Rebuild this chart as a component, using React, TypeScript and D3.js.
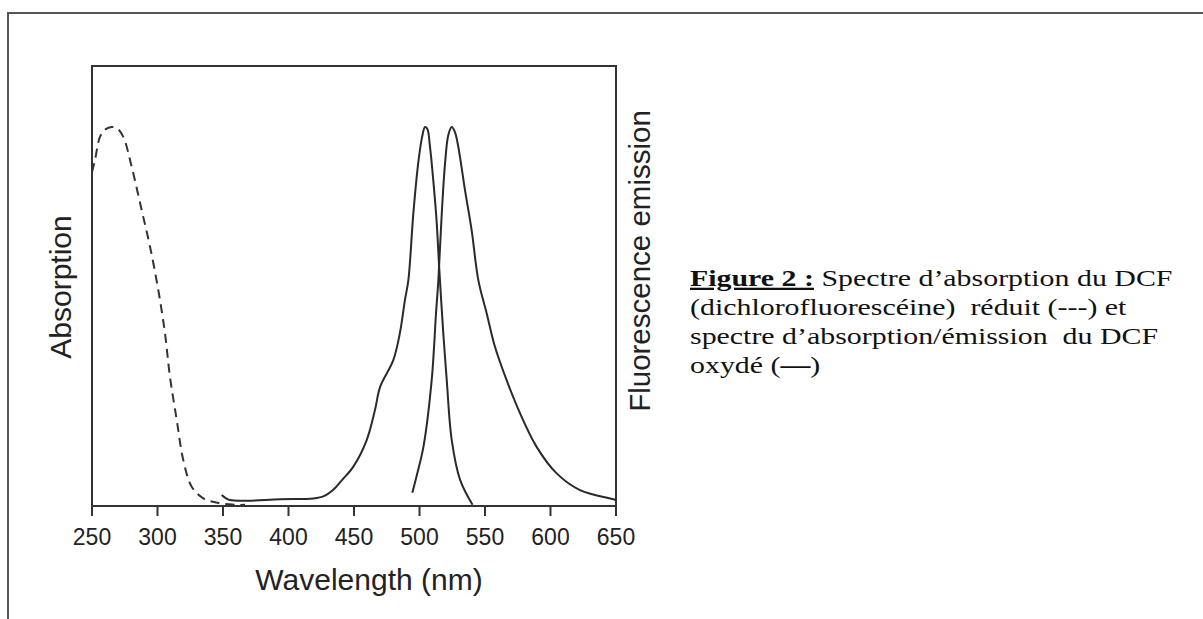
import React from "react";
import * as d3 from "d3";

// Wavelength axis ticks (nm)
const wavelengthTicks = [250, 300, 350, 400, 450, 500, 550, 600, 650];

// Reduced DCF absorption (dashed)
const reducedNm = [250, 252.3, 256.1, 260, 265, 269.5, 273.9, 280.3, 287.9, 294.3, 300.6, 305.7, 309.5, 314.7, 319.7, 326.1, 335, 347.7, 360.5, 366.8];
const reducedAbs = [0.881, 0.913, 0.974, 0.993, 1.0, 0.995, 0.974, 0.895, 0.781, 0.684, 0.57, 0.456, 0.341, 0.227, 0.121, 0.051, 0.02, 0.007, 0.003, 0.003];

// Oxidized DCF absorption (solid, left peak)
const oxAbsNm = [349, 352, 355, 368, 393.5, 419, 427, 434, 441, 449.5, 459.7, 466, 470, 480, 485, 488.9, 491.5, 495.3, 499, 502, 504.2, 506, 508, 510.5, 513, 515, 518, 520.8, 524.6, 531, 540.5];
const oxAbsVal = [0.029, 0.021, 0.016, 0.014, 0.018, 0.02, 0.026, 0.042, 0.069, 0.104, 0.174, 0.253, 0.315, 0.385, 0.456, 0.544, 0.596, 0.772, 0.904, 0.974, 1.0, 0.995, 0.948, 0.86, 0.755, 0.631, 0.464, 0.332, 0.174, 0.069, 0.003];

// Oxidized DCF fluorescence emission (solid, right peak)
const emNm = [494.5, 498, 503, 509.3, 512.6, 514.4, 517, 519.5, 522, 524.6, 527, 529.6, 534.7, 539.8, 544.9, 551.3, 557.6, 566.5, 576.7, 589.4, 604.7, 622.5, 648, 650];
const emVal = [0.035, 0.082, 0.156, 0.332, 0.508, 0.596, 0.772, 0.904, 0.979, 1.0, 0.987, 0.948, 0.834, 0.728, 0.596, 0.508, 0.42, 0.332, 0.245, 0.156, 0.086, 0.042, 0.018, 0.016];

const captionLines = [
  "(dichlorofluorescéine)  réduit (---) et",
  "spectre d’absorption/émission  du DCF",
];

const W = 1203;
const H = 619;
const left = 92, right = 616, top = 66, bottom = 506;

export default function App() {
  const x = d3.scaleLinear().domain([250, 650]).range([left, right]);
  const y = d3.scaleLinear().domain([0, 1]).range([bottom, 127]);
  const line = d3
    .line<[number, number]>()
    .x((d) => x(d[0]))
    .y((d) => y(d[1]))
    .curve(d3.curveCatmullRom.alpha(0.5));
  const zip = (a: number[], b: number[]) => a.map((v, i) => [v, b[i]] as [number, number]);

  const sans = "'Liberation Sans', Arial, sans-serif";
  const serif = "'Liberation Serif', 'Times New Roman', serif";
  const ink = "#222";

  const capY0 = 286;
  const capStep = 29;

  return (
    <svg width={W} height={H} style={{ position: "absolute", left: 0, top: 0, background: "#fff" }}>
      <rect x={0} y={0} width={W} height={H} fill="#fff" />
      {/* outer border */}
      <path d={`M8,${H} L8,13 L${W},13`} fill="none" stroke="#555" strokeWidth={2} />

      {/* plot frame */}
      <rect x={left} y={top} width={right - left} height={bottom - top} fill="none" stroke="#333" strokeWidth={2} />

      {/* curves */}
      <path d={line(zip(reducedNm, reducedAbs)) || ""} fill="none" stroke="#333" strokeWidth={2} strokeDasharray="9,6" />
      <path d={line(zip(oxAbsNm, oxAbsVal)) || ""} fill="none" stroke="#2a2a2a" strokeWidth={2} />
      <path d={line(zip(emNm, emVal)) || ""} fill="none" stroke="#2a2a2a" strokeWidth={2} />

      {/* x ticks */}
      {wavelengthTicks.map((t) => (
        <g key={t}>
          <line x1={x(t)} x2={x(t)} y1={bottom} y2={bottom + 10} stroke="#333" strokeWidth={2} />
          <text x={x(t)} y={545} textAnchor="middle" fontFamily={sans} fontSize={23} fill={ink}>
            {t}
          </text>
        </g>
      ))}

      <text x={369} y={590} textAnchor="middle" fontFamily={sans} fontSize={30} fill={ink}>
        Wavelength (nm)
      </text>
      <text transform="translate(71,287) rotate(-90)" textAnchor="middle" fontFamily={sans} fontSize={30} fill={ink}>
        Absorption
      </text>
      <text transform="translate(650,261) rotate(-90)" textAnchor="middle" fontFamily={sans} fontSize={29.5} fill={ink}>
        Fluorescence emission
      </text>

      {/* caption */}
      <g transform="translate(690,0) scale(1.3,1)" fontFamily={serif} fontSize={23} fill="#111">
        <text x={0} y={capY0}>
          <tspan fontWeight="bold" textDecoration="underline">Figure 2 :</tspan>
          <tspan> Spectre d’absorption du DCF</tspan>
        </text>
        {captionLines.map((s, i) => (
          <text key={i} x={0} y={capY0 + capStep * (i + 1)} style={{ whiteSpace: "pre" }}>
            {s}
          </text>
        ))}
        <text x={0} y={capY0 + capStep * 3}>
          <tspan>oxydé (</tspan>
          <tspan fontWeight="bold">—</tspan>
          <tspan>)</tspan>
        </text>
      </g>
    </svg>
  );
}
